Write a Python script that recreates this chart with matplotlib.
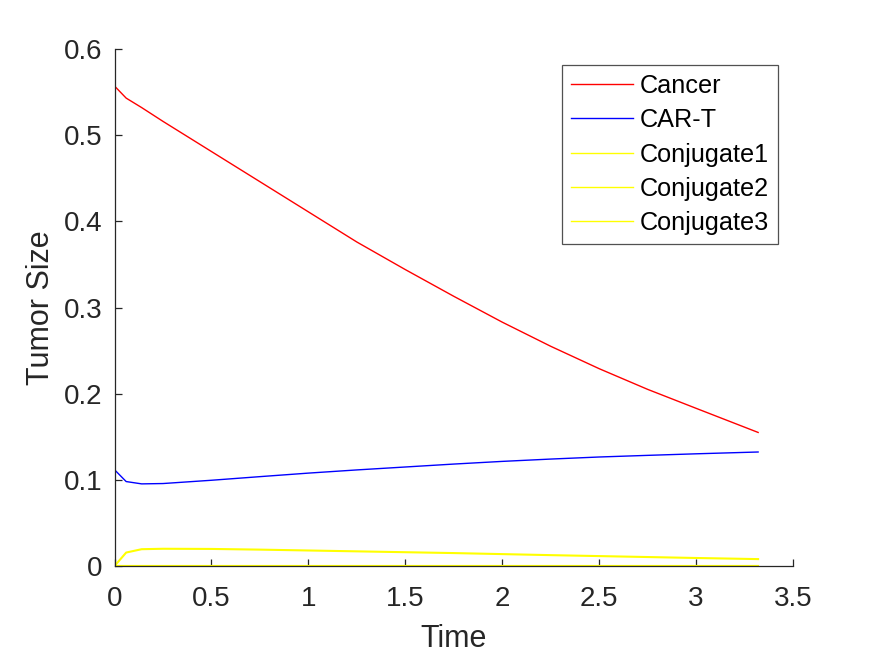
import matplotlib
matplotlib.use("Agg")
import matplotlib.pyplot as plt

# values
time = [0, 0.06, 0.14, 0.25, 0.5, 0.75, 1.0, 1.25, 1.5, 1.75, 2.0, 2.25, 2.5, 2.75, 3.0, 3.32]
cancer = [0.557, 0.543, 0.532, 0.516, 0.481, 0.446, 0.411, 0.376, 0.344, 0.313, 0.283,
          0.255, 0.229, 0.205, 0.183, 0.155]
car_t = [0.1117, 0.098, 0.0953, 0.0957, 0.0995, 0.1037, 0.1078, 0.1115, 0.1149, 0.1183,
         0.1214, 0.1241, 0.1265, 0.1284, 0.1302, 0.1323]
conjugate1 = [0, 0.0156, 0.0195, 0.0200, 0.0198, 0.0190, 0.0180, 0.0170, 0.0160, 0.0150,
              0.0138, 0.0126, 0.0115, 0.0104, 0.0093, 0.0080]
conjugate2 = [0] * 16
conjugate3 = [0] * 16

plt.rcParams["font.family"] = ["Liberation Sans", "DejaVu Sans"]

fig = plt.figure(figsize=(8.75, 6.56), dpi=100)
ax = fig.add_axes([0.1309, 0.1372, 0.7754, 0.7881])

ax.plot(time, cancer, color="#ff0000", lw=1.0, label="Cancer")
ax.plot(time, car_t, color="#0000ff", lw=1.0, label="CAR-T")
ax.plot(time, conjugate1, color="#ffff00", lw=1.5, label="Conjugate1")
ax.plot(time, conjugate2, color="#ffff00", lw=1.5, label="Conjugate2")
ax.plot(time, conjugate3, color="#ffff00", lw=1.5, label="Conjugate3")

ax.set_xlim(0, 3.5)
ax.set_ylim(0, 0.6)
ax.set_xticks([0, 0.5, 1, 1.5, 2, 2.5, 3, 3.5])
ax.set_xticklabels(["0", "0.5", "1", "1.5", "2", "2.5", "3", "3.5"])
ax.set_yticks([0, 0.1, 0.2, 0.3, 0.4, 0.5, 0.6])
ax.set_yticklabels(["0", "0.1", "0.2", "0.3", "0.4", "0.5", "0.6"])

ax.spines["top"].set_visible(False)
ax.spines["right"].set_visible(False)
for s in ("left", "bottom"):
    ax.spines[s].set_color("#262626")
    ax.spines[s].set_linewidth(0.9)
ax.tick_params(direction="in", length=5, width=0.9, colors="#262626", labelsize=20)
ax.tick_params(axis="x", pad=14.5)
ax.tick_params(axis="y", pad=9)

ax.set_xlabel("Time", fontsize=22, color="#262626", labelpad=8.5)
ax.set_ylabel("Tumor Size", fontsize=22, color="#262626", labelpad=5.5)

leg = ax.legend(loc="upper left", bbox_to_anchor=(0.6596, 0.969), fontsize=18.2,
                frameon=True, fancybox=False, edgecolor="#262626", borderpad=0.35,
                handlelength=2.45, handletextpad=0.27, labelspacing=0.41, borderaxespad=0)
leg.get_frame().set_linewidth(0.9)
for h in leg.legend_handles:
    h.set_linewidth(1.0)

fig.savefig("out.png", dpi=100)
